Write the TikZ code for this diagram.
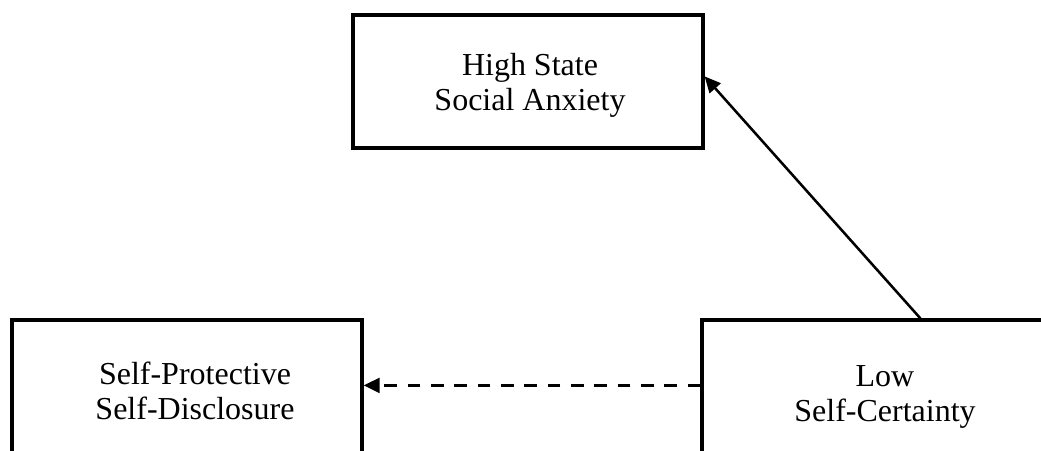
\documentclass[tikz,border=0pt]{standalone}
\usepackage{fontspec}
\setmainfont{Liberation Serif}
\usetikzlibrary{arrows.meta,calc}
\tikzset{
  boxnode/.style={draw=black, line width=2.4pt, rectangle, inner sep=0pt},
  lbl/.style={align=center, inner sep=0pt, font=\fontsize{24pt}{26.25pt}\selectfont},
  conn/.style={line width=1.9pt, -{Triangle[length=12pt,width=11pt]}},
  dashconn/.style={conn, line width=2.3pt, dash pattern=on 9.5pt off 8pt}
}
\begin{document}
\begin{tikzpicture}[x=0.75pt,y=-0.75pt]
\useasboundingbox (0,0) rectangle (1041,450);
\clip (0,0) rectangle (1041,450);
% boxes
\node[boxnode, minimum width=262.5pt, minimum height=99.75pt] (hsa) at (528,81.5) {};
\node[boxnode, minimum width=262.5pt, minimum height=120pt] (spsd) at (187,400) {};
\node[boxnode, minimum width=268.5pt, minimum height=120pt] (lsc) at (881,400) {};
% labels
\node[lbl] (hsaT) at (530,85) {High State\\Social Anxiety};
\node[lbl] (spsdT) at (195,390.5) {Self-Protective\\Self-Disclosure};
\node[lbl] (lscT) at (885,397) {Low\\Self-Certainty};
% connectors
\draw[conn] ($(lsc.north west)+(220,0)$) -- ($(hsa.north east)+(0,63)$);
\draw[dashconn] ($(lsc.north west)+(0,67)$) -- ($(spsd.north east)+(0,67)$);
\end{tikzpicture}
\end{document}
